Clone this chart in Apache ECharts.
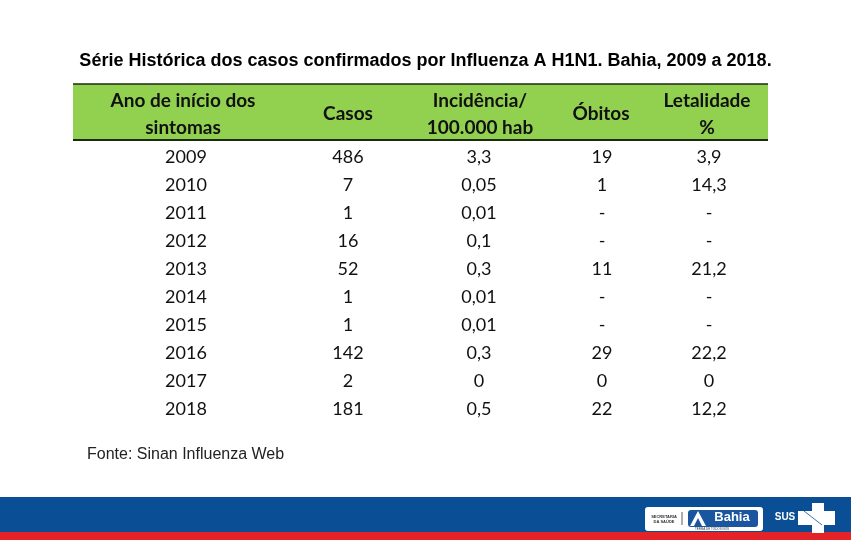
<!DOCTYPE html>
<html>
<head>
<meta charset="utf-8">
<script src="https://cdn.jsdelivr.net/npm/echarts@6/dist/echarts.min.js"></script>
<style>html,body{margin:0;padding:0;background:#fff;}#c{width:851px;height:540px;}</style>
</head>
<body>
<div id="c"></div>
<script>
// ---- data ----
const titleText = 'Série Histórica dos casos confirmados por Influenza A H1N1. Bahia, 2009 a 2018.';
const headers = ['Ano de início dos\nsintomas', 'Casos', 'Incidência/\n100.000 hab', 'Óbitos', 'Letalidade\n%'];
const years = ['2009','2010','2011','2012','2013','2014','2015','2016','2017','2018'];
const casos = [486, 7, 1, 16, 52, 1, 1, 142, 2, 181];
const incidencia = ['3,3','0,05','0,01','0,1','0,3','0,01','0,01','0,3','0','0,5'];
const obitos = ['19','1','-','-','11','-','-','29','0','22'];
const letalidade = ['3,9','14,3','-','-','21,2','-','-','22,2','0','12,2'];
const sourceText = 'Fonte: Sinan Influenza Web';

// ---- layout (not data) ----
const colX = [186, 348, 479, 602, 709];
const headX = [183, 348, 480, 601, 707];
const tableLeft = 73, tableRight = 768;

const columns = [years, casos.map(String), incidencia, obitos, letalidade];
const cells = [];
const cellData = [];
for (let r = 0; r < years.length; r++) {
  for (let c = 0; c < columns.length; c++) {
    cells.push(columns[c][r]);
    cellData.push([colX[c], r]);
  }
}

const chart = echarts.init(document.getElementById('c'), null, {renderer: 'canvas'});
const headerEls = headers.map((h, i) => ({
  type: 'text', x: headX[i], y: 114,
  style: {text: h, font: 'bold 19px Lato', fill: '#111', align: 'center', verticalAlign: 'middle', lineHeight: 27}
}));

chart.setOption({
  animation: false,
  backgroundColor: '#ffffff',
  title: {
    text: titleText, left: 'center', top: 47,
    textStyle: {fontFamily: 'Liberation Sans, Arial', fontWeight: 'bold', fontSize: 18, color: '#000'}
  },
  grid: {left: 0, right: 0, top: 143, height: 280},
  xAxis: {type: 'value', min: 0, max: 851, show: false},
  yAxis: {type: 'category', data: years, inverse: true, show: false},
  graphic: [
    {type: 'rect', shape: {x: tableLeft, y: 140, width: tableRight - tableLeft, height: 282}, style: {fill: '#ffffff'}, z: -1},
    {type: 'rect', shape: {x: tableLeft, y: 84, width: tableRight - tableLeft, height: 56}, style: {fill: '#92D050'}},
    {type: 'line', shape: {x1: tableLeft, y1: 84, x2: tableRight, y2: 84}, style: {stroke: '#1d2a12', lineWidth: 1.5}},
    {type: 'line', shape: {x1: tableLeft, y1: 140, x2: tableRight, y2: 140}, style: {stroke: '#1d2a12', lineWidth: 2}},
    ...headerEls,
    {type: 'text', x: 87, y: 455, style: {text: sourceText, font: '16px "Liberation Sans", Arial', fill: '#222', verticalAlign: 'middle'}},
    // footer bands
    {type: 'rect', shape: {x: 0, y: 497, width: 851, height: 35}, style: {fill: '#0A4E96'}},
    {type: 'rect', shape: {x: 0, y: 532, width: 851, height: 8}, style: {fill: '#E42328'}},
    // logo box
    {type: 'rect', shape: {x: 645, y: 507, width: 118, height: 24, r: 3}, style: {fill: '#ffffff'}},
    {type: 'text', x: 664, y: 519, style: {text: 'SECRETARIA\nDA SAÚDE', font: 'bold 4px "Liberation Sans"', fill: '#333', align: 'center', verticalAlign: 'middle', lineHeight: 5}},
    {type: 'line', shape: {x1: 682, y1: 512, x2: 682, y2: 525}, style: {stroke: '#333', lineWidth: 0.8}},
    {type: 'rect', shape: {x: 688, y: 510, width: 70, height: 17, r: 3}, style: {fill: '#1a56a0'}},
    {type: 'polygon', shape: {points: [[690, 526], [698, 511], [706, 526]]}, style: {fill: '#ffffff'}},
    {type: 'polygon', shape: {points: [[694, 526], [698, 518], [702, 526]]}, style: {fill: '#1a56a0'}},
    {type: 'text', x: 732, y: 517, style: {text: 'Bahia', font: 'bold 13px "Liberation Sans"', fill: '#fff', align: 'center', verticalAlign: 'middle'}},
    {type: 'text', x: 712, y: 529, style: {text: 'TERRA DE TODOS NÓS', font: '3px "Liberation Sans"', fill: '#333', align: 'center', verticalAlign: 'middle'}},
    {type: 'text', x: 785, y: 517, style: {text: 'SUS', font: 'bold 10px "Liberation Sans"', fill: '#fff', align: 'center', verticalAlign: 'middle'}},
    {type: 'rect', shape: {x: 812, y: 503, width: 12, height: 30}, style: {fill: '#ffffff'}},
    {type: 'rect', shape: {x: 798, y: 511, width: 37, height: 14}, style: {fill: '#ffffff'}},
    {type: 'line', shape: {x1: 804, y1: 511, x2: 822, y2: 525}, style: {stroke: '#0A4E96', lineWidth: 0.8}}
  ],
  series: [{
    type: 'custom',
    coordinateSystem: 'cartesian2d',
    data: cellData,
    renderItem: function (params, api) {
      const p = api.coord([api.value(0), api.value(1)]);
      return {
        type: 'text', x: p[0], y: p[1],
        style: {text: cells[params.dataIndex], font: '18px Lato', fill: '#111', align: 'center', verticalAlign: 'middle'}
      };
    }
  }]
});
</script>
</body>
</html>
